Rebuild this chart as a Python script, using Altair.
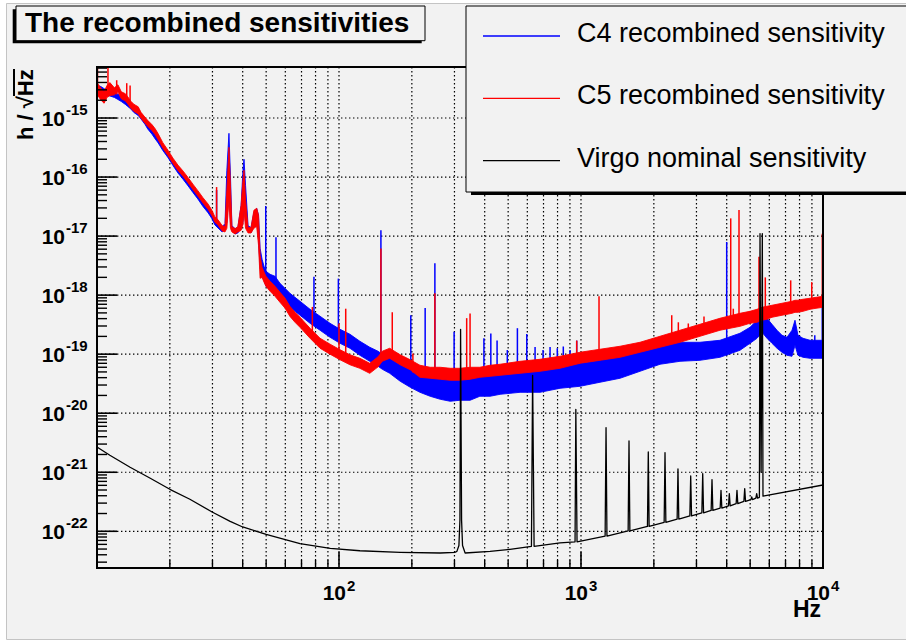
import altair as alt
import numpy as np
import pandas as pd

# ---------------- data ----------------
# common frequency grid (Hz) for the C4 / C5 noise bands
freq_hz = [10.0, 10.4, 10.7, 11.0, 11.3, 11.8, 12.2, 12.6, 13.1, 13.4,
           13.8, 14.2, 14.8, 15.2, 15.8, 16.2, 16.9, 17.4, 17.9, 18.7,
           19.7, 20.6, 21.6, 22.7, 23.8, 24.9, 26.1, 27.4, 28.8, 29.9,
           30.7, 31.6, 32.9, 33.8, 34.4, 35.1, 35.6, 36.1, 37.2, 38.2,
           39.4, 40.1, 40.5, 41.1, 42.1, 43.3, 44.5, 45.7, 46.5, 47.2,
           48.1, 49.0, 49.9, 51.9, 54.4, 57.0, 59.8, 62.7, 65.8, 69.0,
           75.9, 83.5, 91.8, 101, 111, 122, 134, 145, 151, 162,
           179, 197, 216, 238, 262, 288, 316, 348, 382, 421,
           463, 560, 677, 819, 991, 1198, 1450, 1753, 2121, 2565,
           3102, 3752, 4539, 4993, 5338, 5597, 5869, 6155, 6455, 6769,
           7100, 7445, 7661, 7883, 8268, 8839, 9356, 10000]

# log10 of h (1/sqrt(Hz)): lower and upper edge of each noisy band
c4_low_log10 = [-14.533, -14.559, -14.593, -14.618, -14.626, -14.652, -14.686, -14.720, -14.770, -14.804,
                -14.847, -14.906, -14.957, -15.016, -15.109, -15.185, -15.278, -15.355, -15.423, -15.549,
                -15.677, -15.804, -15.931, -16.041, -16.151, -16.261, -16.371, -16.498, -16.608, -16.710,
                -16.811, -16.862, -16.930, -16.879, -16.766, -16.224, -16.766, -16.913, -16.964, -16.947,
                -16.868, -16.766, -16.478, -16.766, -16.913, -16.947, -16.834, -16.766, -17.071, -17.545,
                -17.664, -17.749, -17.850, -17.901, -17.935, -18.037, -18.121, -18.206, -18.274, -18.341,
                -18.477, -18.595, -18.714, -18.816, -18.900, -19.019, -19.121, -19.205, -19.256, -19.324,
                -19.459, -19.561, -19.646, -19.713, -19.764, -19.798, -19.781, -19.781, -19.713, -19.713,
                -19.680, -19.646, -19.646, -19.578, -19.544, -19.476, -19.408, -19.290, -19.171, -19.121,
                -19.104, -19.053, -18.934, -18.816, -18.731, -18.629, -18.731, -18.816, -18.900, -18.968,
                -19.019, -19.036, -18.850, -19.019, -19.053, -19.070, -19.070, -19.070]
c4_high_log10 = [-14.443, -14.469, -14.503, -14.528, -14.536, -14.562, -14.596, -14.630, -14.680, -14.714,
                 -14.757, -14.816, -14.867, -14.926, -15.019, -15.095, -15.188, -15.265, -15.333, -15.459,
                 -15.587, -15.714, -15.841, -15.951, -16.061, -16.171, -16.281, -16.408, -16.518, -16.620,
                 -16.721, -16.772, -16.840, -16.789, -15.885, -15.259, -15.970, -16.823, -16.874, -16.857,
                 -16.478, -15.885, -15.699, -16.140, -16.823, -16.857, -16.597, -16.529, -16.648, -17.207,
                 -17.393, -17.511, -17.596, -17.647, -17.681, -17.799, -17.884, -17.969, -18.037, -18.104,
                 -18.240, -18.358, -18.477, -18.579, -18.663, -18.782, -18.883, -18.951, -19.002, -19.070,
                 -19.154, -19.239, -19.307, -19.341, -19.375, -19.392, -19.408, -19.341, -19.324, -19.307,
                 -19.307, -19.307, -19.273, -19.205, -19.154, -19.104, -19.036, -18.934, -18.833, -18.799,
                 -18.799, -18.765, -18.646, -18.545, -18.426, -18.291, -18.392, -18.494, -18.595, -18.680,
                 -18.714, -18.595, -18.426, -18.680, -18.731, -18.765, -18.765, -18.765]
c5_low_log10 = [-14.600, -14.700, -14.750, -14.650, -14.620, -14.608, -14.557, -14.675, -14.709, -14.760,
                -14.836, -14.887, -14.930, -15.004, -15.089, -15.140, -15.216, -15.283, -15.368, -15.507,
                -15.643, -15.770, -15.888, -15.990, -16.100, -16.210, -16.320, -16.439, -16.549, -16.659,
                -16.765, -16.811, -16.913, -16.930, -16.868, -16.390, -16.868, -16.930, -16.964, -16.930,
                -16.902, -16.800, -16.563, -16.868, -16.947, -16.947, -16.868, -16.834, -17.156, -17.715,
                -17.700, -17.780, -17.850, -17.935, -18.020, -18.120, -18.220, -18.360, -18.460, -18.545,
                -18.730, -18.900, -19.000, -19.095, -19.180, -19.240, -19.325, -19.215, -19.120, -19.070,
                -19.180, -19.265, -19.392, -19.408, -19.425, -19.442, -19.442, -19.425, -19.392, -19.375,
                -19.358, -19.324, -19.290, -19.239, -19.154, -19.104, -19.053, -18.968, -18.883, -18.799,
                -18.697, -18.595, -18.528, -18.477, -18.460, -18.426, -18.409, -18.375, -18.358, -18.341,
                -18.325, -18.308, -18.291, -18.291, -18.274, -18.240, -18.223, -18.206]
c5_high_log10 = [-14.400, -14.500, -14.550, -14.450, -14.400, -14.488, -14.437, -14.555, -14.589, -14.640,
                 -14.716, -14.767, -14.810, -14.904, -14.989, -15.040, -15.116, -15.183, -15.268, -15.417,
                 -15.553, -15.680, -15.798, -15.900, -16.010, -16.120, -16.230, -16.349, -16.459, -16.569,
                 -16.675, -16.721, -16.823, -16.840, -16.224, -15.496, -16.140, -16.840, -16.874, -16.840,
                 -16.478, -16.055, -15.885, -16.394, -16.857, -16.857, -16.563, -16.529, -16.648, -17.325,
                 -17.530, -17.610, -17.680, -17.765, -17.850, -17.950, -18.050, -18.190, -18.290, -18.375,
                 -18.560, -18.730, -18.830, -18.925, -19.010, -19.070, -19.155, -19.045, -18.950, -18.900,
                 -19.010, -19.095, -19.188, -19.222, -19.222, -19.239, -19.239, -19.222, -19.222, -19.188,
                 -19.171, -19.121, -19.087, -19.036, -18.968, -18.917, -18.866, -18.799, -18.697, -18.595,
                 -18.494, -18.392, -18.308, -18.274, -18.240, -18.206, -18.189, -18.172, -18.155, -18.138,
                 -18.121, -18.104, -18.087, -18.087, -18.070, -18.053, -18.037, -18.020]

# narrow lines (spikes): frequency, foot and tip (log10 h)
c4_spike_hz = [31.2, 49.8, 54.9, 78.8, 99.4, 149, 198, 227, 249, 299, 397, 424, 450,
               496, 546, 597, 646, 697, 745, 798, 845, 901, 960, 4000, 9249, 9930]
c4_spike_base_log10 = [-16.77, -17.66, -17.83, -18.33, -18.70, -19.10, -19.36, -19.49, -19.53,
                       -19.58, -19.53, -19.53, -19.51, -19.49, -19.48, -19.48, -19.46, -19.46,
                       -19.44, -19.41, -19.39, -19.38, -19.36, -19.02, -18.93, -18.93]
c4_spike_top_log10 = [-16.22, -16.49, -17.02, -17.69, -17.72, -16.90, -18.34, -18.22, -17.46,
                      -18.62, -18.73, -18.65, -18.77, -18.93, -18.56, -18.66, -18.88, -18.93,
                      -18.88, -18.90, -18.87, -18.93, -18.77, -17.10, -18.68, -18.17]

c5_spike_hz = [10.05, 11.1, 12.06, 13.27, 13.7,
               31.2, 77.6, 100, 106.6, 149, 166, 202, 249, 337, 348, 960, 1187,
               2371, 2525, 2776, 3223, 4156, 4259, 4497, 5439, 5775, 7354, 8984, 9934]
c5_spike_base_log10 = [-14.50, -14.55, -14.60, -14.70, -14.75,
                       -16.77, -18.68, -19.02, -19.07, -19.02, -18.99, -19.31, -19.31, -19.32,
                       -19.32, -19.05, -19.02, -18.75, -18.71, -18.66, -18.60, -18.43, -18.43,
                       -18.39, -18.33, -18.29, -18.21, -18.14, -18.12]
c5_spike_top_log10 = [-14.14, -14.14, -14.36, -14.41, -14.45,
                      -16.17, -18.20, -18.48, -18.23, -17.21, -18.29, -18.99, -17.97, -18.39,
                      -18.31, -18.77, -18.02, -18.34, -18.46, -18.48, -18.36, -16.70, -18.23,
                      -16.56, -17.35, -17.70, -17.75, -17.78, -16.96]

# Virgo nominal sensitivity curve (with violin-mode resonances)
virgo_hz = [10, 11.3, 13.7, 16.6, 20.0, 24.2, 29.9, 35.5, 40, 50,
            60, 69, 92, 122, 179, 262, 302, 307, 313, 316,
            318, 321, 324, 332, 421, 509, 624, 631, 640, 819,
            945, 952, 963, 1258, 1269, 1280, 1566, 1579, 1592, 1882,
            1897, 1912, 2206, 2224, 2242, 2496, 2516, 2536, 2817, 2840,
            2863, 3158, 3184, 3210, 3450, 3478, 3506, 3759, 3789, 3819,
            4068, 4101, 4134, 4376, 4411, 4446, 4710, 4748, 4786, 5035,
            5075, 5115, 5279, 5321, 5363, 5460, 5492, 5550, 5614, 5650,
            10000]
virgo_log10 = [-20.572, -20.713, -20.916, -21.102, -21.289, -21.458, -21.673, -21.831, -21.927, -22.051,
               -22.141, -22.208, -22.288, -22.330, -22.356, -22.368, -22.356, -22.340, -22.240, -21.810,
               -18.580, -21.810, -22.240, -22.368, -22.339, -22.305, -22.254, -19.358, -22.254, -22.198,
               -22.178, -19.934, -22.178, -22.081, -20.244, -22.081, -21.992, -20.471, -21.992, -21.917,
               -20.657, -21.917, -21.848, -20.667, -21.848, -21.793, -20.945, -21.793, -21.739, -21.063,
               -21.739, -21.687, -21.023, -21.687, -21.646, -21.124, -21.646, -21.607, -21.306, -21.607,
               -21.570, -21.361, -21.570, -21.533, -21.306, -21.533, -21.495, -21.277, -21.495, -21.463,
               -21.419, -21.463, -21.439, -21.361, -21.439, -21.425, -16.958, -21.000, -16.958, -21.405,
               -21.216]

# axes
x_range_hz = [10, 10000]
y_range_log10 = [-22.622, -14.136]
x_label_hz = [100, 1000, 10000]
x_label_exp = ["2", "3", "4"]
y_label_exp = [-15, -16, -17, -18, -19, -20, -21, -22]

title_text = "The recombined sensitivities"
legend_labels = ["C4 recombined sensitivity", "C5 recombined sensitivity", "Virgo nominal sensitivity"]
legend_colors = ["#0000ff", "#ff0000", "#000000"]
x_title = "Hz"
y_title = "h / \u221aHz"

# ---------------- tables ----------------
def p10(v):
    return 10.0 ** np.asarray(v, dtype=float)

c4_band = pd.DataFrame({"f": freq_hz, "lo": p10(c4_low_log10), "hi": p10(c4_high_log10)})
c5_band = pd.DataFrame({"f": freq_hz, "lo": p10(c5_low_log10), "hi": p10(c5_high_log10)})
c4_spk = pd.DataFrame({"f": c4_spike_hz, "lo": p10(c4_spike_base_log10), "hi": p10(c4_spike_top_log10)})
c5_spk = pd.DataFrame({"f": c5_spike_hz, "lo": p10(c5_spike_base_log10), "hi": p10(c5_spike_top_log10)})
virgo = pd.DataFrame({"f": virgo_hz, "h": p10(virgo_log10)})

y_lo, y_hi = p10(y_range_log10)
x_major = [100, 1000]
x_minor = [m * 10 ** e for e in (1, 2, 3) for m in range(2, 10)]
y_major = [10.0 ** e for e in range(-22, -14)]
y_minor = [m * 10.0 ** e for e in range(-23, -14) for m in range(2, 10)
           if y_lo <= m * 10.0 ** e <= y_hi]

xs = alt.Scale(type="log", domain=x_range_hz, nice=False)
ys = alt.Scale(type="log", domain=[float(y_lo), float(y_hi)], nice=False)
X = alt.X("f:Q", scale=xs, axis=None)

W, H = 726, 501
FONT = "Liberation Sans"
BG = "#f2f2f2"
one = pd.DataFrame({"k": [0]})

layers = []

# canvas frame decorations (outside plot)
layers.append(alt.Chart(one).mark_rect(fill="white").encode(
    x=alt.value(-97), x2=alt.value(-91), y=alt.value(-67), y2=alt.value(574)))
layers.append(alt.Chart(one).mark_rect(fill="white").encode(
    x=alt.value(-97), x2=alt.value(830), y=alt.value(-67), y2=alt.value(-64)))
layers.append(alt.Chart(one).mark_rect(fill="white").encode(
    x=alt.value(-97), x2=alt.value(830), y=alt.value(572), y2=alt.value(574)))
layers.append(alt.Chart(one).mark_rect(filled=False, stroke="#c4c4c4", strokeWidth=1).encode(
    x=alt.value(-90.5), x2=alt.value(832), y=alt.value(-63.5), y2=alt.value(572.5)))

# grid
gx = pd.DataFrame({"v": sorted(x_minor + x_major)})
gy = pd.DataFrame({"v": y_major})
layers.append(alt.Chart(gx).mark_rule(color="black", strokeWidth=1.2, strokeDash=[1.4, 2.6]).encode(
    x=alt.X("v:Q", scale=xs, axis=None), y=alt.value(0), y2=alt.value(H)))
layers.append(alt.Chart(gy).mark_rule(color="black", strokeWidth=1.2, strokeDash=[1.4, 2.6]).encode(
    y=alt.Y("v:Q", scale=ys, axis=None), x=alt.value(0), x2=alt.value(W)))

# data
def band(df, col):
    return alt.Chart(df).mark_area(color=col, stroke=col, strokeWidth=0.9, clip=True).encode(
        x=X, y=alt.Y("lo:Q", scale=ys, axis=None), y2="hi:Q")

def spikes(df, col):
    return alt.Chart(df).mark_rule(color=col, strokeWidth=1.5, clip=True).encode(
        x=X, y=alt.Y("lo:Q", scale=ys, axis=None), y2="hi:Q")

layers += [band(c4_band, legend_colors[0]), spikes(c4_spk, legend_colors[0]),
           band(c5_band, legend_colors[1]), spikes(c5_spk, legend_colors[1])]
layers.append(alt.Chart(virgo).mark_line(color="black", strokeWidth=1.3, clip=True, strokeJoin="round").encode(
    x=X, y=alt.Y("h:Q", scale=ys, axis=None)))

# ticks
layers.append(alt.Chart(pd.DataFrame({"v": x_major})).mark_rule(color="black", strokeWidth=1.6).encode(
    x=alt.X("v:Q", scale=xs, axis=None), y=alt.value(H), y2=alt.value(H - 16)))
layers.append(alt.Chart(pd.DataFrame({"v": x_minor})).mark_rule(color="black", strokeWidth=1.4).encode(
    x=alt.X("v:Q", scale=xs, axis=None), y=alt.value(H), y2=alt.value(H - 8)))
layers.append(alt.Chart(pd.DataFrame({"v": y_major})).mark_rule(color="black", strokeWidth=1.6).encode(
    y=alt.Y("v:Q", scale=ys, axis=None), x=alt.value(0), x2=alt.value(20)))
layers.append(alt.Chart(pd.DataFrame({"v": y_minor})).mark_rule(color="black", strokeWidth=1.4).encode(
    y=alt.Y("v:Q", scale=ys, axis=None), x=alt.value(0), x2=alt.value(10)))

# frame
layers.append(alt.Chart(one).mark_rect(filled=False, stroke="black", strokeWidth=2).encode(
    x=alt.value(0), x2=alt.value(W), y=alt.value(0), y2=alt.value(H)))

# tick labels
xl = pd.DataFrame({"v": x_label_hz, "e": x_label_exp})
layers.append(alt.Chart(xl).mark_text(text="10", align="right", baseline="alphabetic", dx=7,
                                      font=FONT, fontSize=21, fontWeight="bold").encode(
    x=alt.X("v:Q", scale=xs, axis=None), y=alt.value(H + 32)))
layers.append(alt.Chart(xl).mark_text(align="left", baseline="alphabetic", dx=8,
                                      font=FONT, fontSize=15, fontWeight="bold").encode(
    x=alt.X("v:Q", scale=xs, axis=None), y=alt.value(H + 23), text="e:N"))
yl = pd.DataFrame({"v": [10.0 ** e for e in y_label_exp], "e": [str(e) for e in y_label_exp]})
layers.append(alt.Chart(yl).mark_text(text="10", align="right", baseline="alphabetic", dy=8,
                                      font=FONT, fontSize=21, fontWeight="bold").encode(
    y=alt.Y("v:Q", scale=ys, axis=None), x=alt.value(-32)))
layers.append(alt.Chart(yl).mark_text(align="left", baseline="alphabetic", dy=-3,
                                      font=FONT, fontSize=15, fontWeight="bold").encode(
    y=alt.Y("v:Q", scale=ys, axis=None), x=alt.value(-31), text="e:N"))

# axis titles
layers.append(alt.Chart(one).mark_text(text=x_title, align="right", baseline="alphabetic",
                                       font=FONT, fontSize=23, fontWeight="bold").encode(
    x=alt.value(W - 2), y=alt.value(550)))
layers.append(alt.Chart(one).mark_text(text=y_title, angle=270, align="left", baseline="alphabetic",
                                       font=FONT, fontSize=22, fontWeight="bold").encode(
    x=alt.value(-64), y=alt.value(73)))
layers.append(alt.Chart(one).mark_rule(color="black", strokeWidth=2).encode(
    x=alt.value(-83), y=alt.value(2), y2=alt.value(29)))

# legend box
layers.append(alt.Chart(one).mark_rect(color="black").encode(
    x=alt.value(374), x2=alt.value(815), y=alt.value(-58), y2=alt.value(128)))
layers.append(alt.Chart(one).mark_rect(fill=BG, stroke="black", strokeWidth=1).encode(
    x=alt.value(369), x2=alt.value(815), y=alt.value(-61), y2=alt.value(125)))
for i, (lab, col) in enumerate(zip(legend_labels, legend_colors)):
    yy = -31 + 62.3 * i
    layers.append(alt.Chart(one).mark_rule(color=col, strokeWidth=1.3).encode(
        x=alt.value(386), x2=alt.value(463), y=alt.value(yy), y2=alt.value(yy)))
    layers.append(alt.Chart(one).mark_text(text=lab, align="left", baseline="alphabetic",
                                           font=FONT, fontSize=27).encode(
        x=alt.value(480), y=alt.value(yy + 6)))

# title box
layers.append(alt.Chart(one).mark_rect(color="black").encode(
    x=alt.value(-84.3), x2=alt.value(324.7), y=alt.value(-57.7), y2=alt.value(-23.7)))
layers.append(alt.Chart(one).mark_rect(fill=BG, stroke="black", strokeWidth=1).encode(
    x=alt.value(-81), x2=alt.value(328), y=alt.value(-61), y2=alt.value(-26.3)))
layers.append(alt.Chart(one).mark_text(text=title_text, align="left", baseline="alphabetic",
                                       font=FONT, fontSize=28, fontWeight="bold").encode(
    x=alt.value(-72), y=alt.value(-35.3)))

chart = alt.layer(*layers).properties(
    width=W, height=H,
    autosize=alt.AutoSizeParams(type="none"),
    padding={"left": 97, "top": 67, "right": 83, "bottom": 73},
).configure(background=BG).configure_view(stroke="transparent")

chart.save("out.html", embed_options={"renderer": "svg", "actions": False})
